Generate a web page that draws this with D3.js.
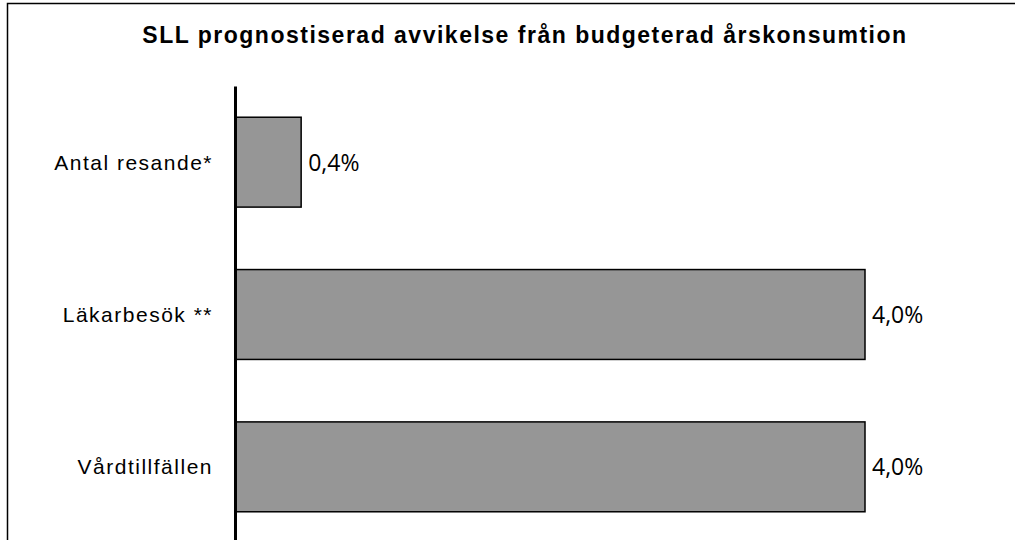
<!DOCTYPE html>
<html>
<head>
<meta charset="utf-8">
<script src="https://cdn.jsdelivr.net/npm/d3@7"></script>
<style>
  body { margin: 0; background: #fff; }
  svg { display: block; }
</style>
</head>
<body>
<div id="chart"></div>
<script>
// data
const categories = ['Antal resande*', 'Läkarbesök **', 'Vårdtillfällen'];
const values = [0.42, 4.0, 4.0];
const title = 'SLL prognostiserad avvikelse från budgeterad årskonsumtion';

const width = 1015, height = 540;

const svg = d3.select('#chart').append('svg')
  .attr('width', width)
  .attr('height', height);

// outer frame (runs off the right and bottom edges)
svg.append('rect')
  .attr('x', 7.5).attr('y', 3.5)
  .attr('width', 1020).attr('height', 560)
  .attr('fill', '#fff')
  .attr('stroke', '#000')
  .attr('stroke-width', 1.5);

svg.append('text')
  .attr('x', 525).attr('y', 43)
  .attr('text-anchor', 'middle')
  .style('font-family', '"Liberation Sans", Arial, sans-serif')
  .style('font-weight', 'bold')
  .style('font-size', '23px')
  .style('letter-spacing', '1.5px')
  .text(title);

const x = d3.scaleLinear().domain([0, 4.0]).range([235, 865]);
const y = d3.scaleBand().domain(categories).range([86, 543])
  .paddingInner(0.41).paddingOuter(0.205);

const fmt = v => d3.format('.1f')(v).replace('.', ',') + '%';

svg.selectAll('rect.bar')
  .data(values)
  .enter()
  .append('rect')
    .attr('class', 'bar')
    .attr('x', x(0))
    .attr('y', (d, i) => y(categories[i]))
    .attr('width', d => x(d) - x(0))
    .attr('height', y.bandwidth())
    .attr('fill', '#969696')
    .attr('stroke', '#000')
    .attr('stroke-width', 1.5);

svg.selectAll('text.val')
  .data(values)
  .enter()
  .append('text')
    .attr('class', 'val')
    .attr('x', d => x(d) + 7)
    .attr('y', (d, i) => y(categories[i]) + y.bandwidth() / 2 + 8.5)
    .style('font-family', '"Open Sans", sans-serif')
    .style('font-size', '23px')
    .text(fmt);

const yAxis = svg.append('g')
  .attr('transform', `translate(${x(0)},0)`)
  .call(d3.axisLeft(y).tickSize(0).tickPadding(22));

yAxis.select('.domain')
  .attr('stroke', '#000')
  .attr('stroke-width', 3);

yAxis.selectAll('text')
  .attr('fill', '#000')
  .attr('dy', '0.35em')
  .style('font-family', '"Liberation Sans", Arial, sans-serif')
  .style('font-size', '21px')
  .style('letter-spacing', '1.5px');
</script>
</body>
</html>
